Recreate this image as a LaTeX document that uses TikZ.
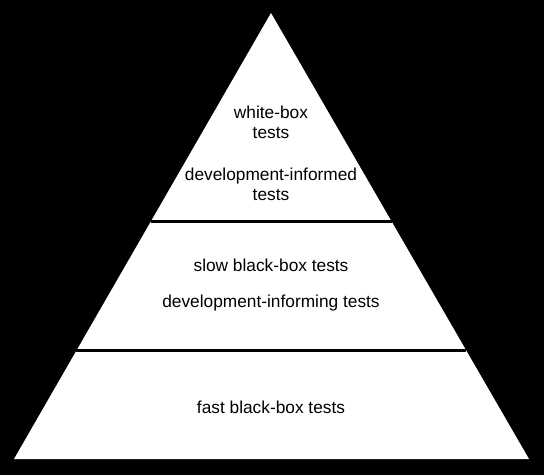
\documentclass[tikz,border=0pt]{standalone}
\usepackage{fontspec}
\setmainfont{Liberation Sans}
\begin{document}
\begin{tikzpicture}[x=1pt,y=-1pt,
  lbl/.style={inner sep=0pt,align=center,font=\fontsize{17.3}{20}\selectfont},
  sep/.style={line width=2.6pt,black}]
\fill[black] (0,0) rectangle (544,475);
\useasboundingbox (0,0) rectangle (544,475);
\coordinate (apex) at (271,13);
\coordinate (bl) at (14,459);
\coordinate (br) at (529,459);
\fill[white] (apex) -- (br) -- (bl) -- cycle;
\coordinate (l1) at (150.9,221.5);
\coordinate (r1) at (391.6,221.5);
\coordinate (l2) at (76.4,350.7);
\coordinate (r2) at (466.4,350.7);
\draw[sep] (l1) -- (r1);
\draw[sep] (l2) -- (r2);
\node[lbl] (wb) at (271,122.5) {white-box\\tests};
\node[lbl] (di) at (271,184) {development-informed\\tests};
\node[lbl] (sb) at (271,265) {slow black-box tests};
\node[lbl] (dg) at (271,303) {development-informing tests};
\node[lbl] (fb) at (271,407.5) {fast black-box tests};
\end{tikzpicture}
\end{document}
